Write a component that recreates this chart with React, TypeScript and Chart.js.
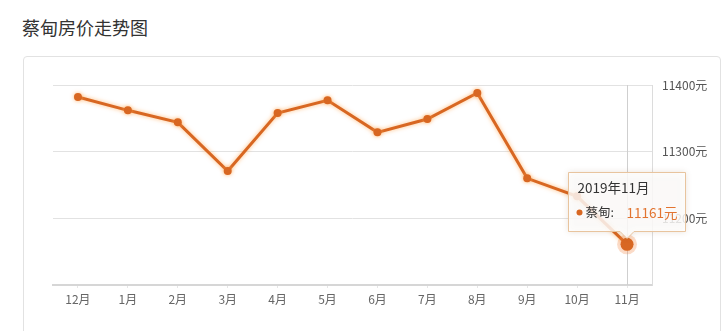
import React, { useEffect, useRef } from "react";
import { Chart, registerables } from "chart.js";

Chart.register(...registerables);

const months = ["12月", "1月", "2月", "3月", "4月", "5月", "6月", "7月", "8月", "9月", "10月", "11月"];
const prices = [11382, 11362, 11344, 11271, 11358, 11377, 11329, 11349, 11388, 11260, 11233, 11161];
const seriesName = "蔡甸";
const tooltipTitle = "2019年11月";
const activeIndex = 11;
const yMin = 11100;
const yMax = 11400;
const yStep = 100;

const FONT = '"Noto Sans CJK SC", "Noto Sans", sans-serif';
const ORANGE = "rgb(216,103,34)";

const overlayPlugin = {
  id: "overlay",
  beforeDatasetsDraw(chart: any) {
    const { ctx, chartArea } = chart;
    const el = chart.getDatasetMeta(0).data[activeIndex];
    if (!el) return;
    ctx.save();
    ctx.strokeStyle = "#cfcfcf";
    ctx.lineWidth = 1;
    ctx.beginPath();
    const x = Math.round(el.x) + 0.5;
    ctx.moveTo(x, chartArea.top);
    ctx.lineTo(x, chartArea.bottom);
    ctx.stroke();
    ctx.restore();
  },
  beforeDatasetDraw(chart: any) {
    const { ctx } = chart;
    ctx.save();
    ctx.shadowColor = "rgba(255,165,80,0.75)";
    ctx.shadowBlur = 4;
  },
  afterDatasetDraw(chart: any) {
    chart.ctx.restore();
  },
  afterDatasetsDraw(chart: any) {
    const { ctx } = chart;
    const el = chart.getDatasetMeta(0).data[activeIndex];
    if (!el) return;
    const px = el.x;
    const py = el.y;
    ctx.save();
    ctx.fillStyle = "rgba(240,130,60,0.28)";
    ctx.beginPath();
    ctx.arc(px, py, 10, 0, Math.PI * 2);
    ctx.fill();
    ctx.fillStyle = ORANGE;
    ctx.beginPath();
    ctx.arc(px, py, 6.5, 0, Math.PI * 2);
    ctx.fill();

    const w = 117;
    const h = 59;
    const bx = Math.round(px - 59) + 0.5;
    const by = Math.round(py - 72) + 0.5;
    const caretH = 7;
    const caretW = 7;
    ctx.beginPath();
    ctx.moveTo(bx, by);
    ctx.lineTo(bx + w, by);
    ctx.lineTo(bx + w, by + h);
    ctx.lineTo(px + caretW, by + h);
    ctx.lineTo(px, by + h + caretH);
    ctx.lineTo(px - caretW, by + h);
    ctx.lineTo(bx, by + h);
    ctx.closePath();
    ctx.shadowColor = "rgba(120,80,40,0.22)";
    ctx.shadowBlur = 6;
    ctx.fillStyle = "rgba(255,255,255,0.82)";
    ctx.fill();
    ctx.shadowColor = "transparent";
    ctx.shadowBlur = 0;
    ctx.strokeStyle = "rgb(232,196,158)";
    ctx.lineWidth = 1;
    ctx.stroke();

    ctx.textBaseline = "middle";
    ctx.textAlign = "left";
    ctx.font = `13.5px ${FONT}`;
    ctx.fillStyle = "#333";
    ctx.fillText(tooltipTitle, bx + 9, by + 15);

    ctx.fillStyle = ORANGE;
    ctx.beginPath();
    ctx.arc(bx + 11, by + 40, 3, 0, Math.PI * 2);
    ctx.fill();
    ctx.font = `12.5px ${FONT}`;
    ctx.fillStyle = "#333";
    ctx.fillText(seriesName + ":", bx + 17, by + 40);
    ctx.font = `13.5px ${FONT}`;
    ctx.fillStyle = "rgb(226,116,48)";
    ctx.fillText(prices[activeIndex] + "元", bx + 58, by + 40);
    ctx.restore();
  },
};

export default function App() {
  const ref = useRef<HTMLCanvasElement | null>(null);
  useEffect(() => {
    if (!ref.current) return;
    const chart = new Chart(ref.current, {
      type: "line",
      data: {
        labels: months,
        datasets: [
          {
            label: seriesName,
            data: prices,
            borderColor: ORANGE,
            backgroundColor: ORANGE,
            borderWidth: 3,
            pointRadius: 4,
            pointBackgroundColor: ORANGE,
            pointBorderWidth: 0,
            tension: 0,
            fill: false,
          },
        ],
      },
      options: {
        animation: false,
        responsive: false,
        events: [],
        layout: { padding: { left: 53, top: 85, right: 0, bottom: 0 } },
        plugins: { legend: { display: false }, tooltip: { enabled: false } },
        scales: {
          x: {
            type: "category",
            offset: true,
            grid: {
              drawOnChartArea: false,
              drawTicks: true,
              tickLength: 3,
              tickColor: "#e6e6e6",
            },
            border: { display: true, color: "#d6d6d6", width: 2 },
            ticks: {
              color: "#666",
              font: { size: 12, family: FONT },
              padding: 4,
              maxRotation: 0,
              autoSkip: false,
            },
            afterFit: (s: any) => {
              s.height = 46;
            },
          },
          y: {
            position: "right",
            min: yMin,
            max: yMax,
            grid: { color: "#e2e2e2", drawTicks: false },
            border: { display: true, color: "#dcdcdc", width: 1 },
            ticks: {
              stepSize: yStep,
              color: "#555",
              padding: 10,
              font: { size: 12, family: FONT },
              callback: (v: any) => (Number(v) === yMin ? "" : v + "元"),
            },
            afterFit: (s: any) => {
              s.width = 72;
            },
          },
        },
      },
      plugins: [overlayPlugin],
    });
    return () => chart.destroy();
  }, []);

  return (
    <div style={{ position: "fixed", left: 0, top: 0, width: 724, height: 331, background: "#fff", overflow: "hidden" }}>
      <div
        style={{
          position: "absolute",
          left: 22,
          top: 17,
          fontSize: 18,
          lineHeight: "20px",
          color: "#333",
          fontFamily: FONT,
        }}
      >
        蔡甸房价走势图
      </div>
      <div
        style={{
          position: "absolute",
          left: 23,
          top: 56,
          width: 698,
          height: 300,
          border: "1px solid #e2e2e2",
          borderRadius: 4,
          boxSizing: "border-box",
        }}
      />
      <canvas ref={ref} width={724} height={331} style={{ position: "absolute", left: 0, top: 0, width: 724, height: 331 }} />
    </div>
  );
}
